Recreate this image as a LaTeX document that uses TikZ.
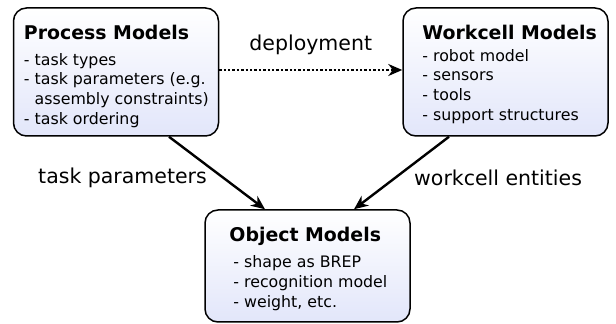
\documentclass[tikz,border=0pt]{standalone}
\usepackage{fontspec}
\setmainfont{DejaVu Sans}
\usetikzlibrary{arrows.meta,positioning}

\definecolor{modelfill}{RGB}{226,230,250}

\tikzset{
  model/.style = {draw=black, line width=1.5pt, rounded corners=13pt,
                  top color=white, bottom color=modelfill,
                  minimum width=205pt, inner sep=0pt},
  items/.style = {align=left, inner sep=0pt,
                  font=\fontsize{15.8}{19.7}\selectfont},
  flow/.style  = {-{Stealth[length=14pt,width=12pt]}, line width=2.4pt},
  lbl/.style   = {font=\fontsize{20.5}{24}\selectfont, inner sep=0pt}
}
\newcommand{\modeltitle}[1]{{\fontsize{18.9}{22}\selectfont\bfseries #1}}

\begin{document}
\begin{tikzpicture}[x=1pt, y=1pt]
        \useasboundingbox (0,0) rectangle (616,324);

        % Place nodes
        \node[model, minimum height=128pt] (proc) at (116,252) {};
        \node[model, minimum height=128pt] (work) at (505.5,252) {};
        \node[model, minimum height=112pt] (obj)  at (307.5,58) {};

        \node[items, below right=17.6pt and 11pt of proc.north west] (proctext)
          {\modeltitle{Process Models}\\[6pt]
           - task types\\
           - task parameters (e.g.\\
           \phantom{- }assembly constraints)\\
           - task ordering};
        \node[items, below right=17.6pt and 20pt of work.north west] (worktext)
          {\modeltitle{Workcell Models}\\[2pt]
           - robot model\\
           - sensors\\
           - tools\\
           - support structures};
        \node[items, below right=17.6pt and 25pt of obj.north west] (objtext)
          {\modeltitle{Object Models}\\[6.5pt]
           \hspace{4pt}- shape as BREP\\
           \hspace{4pt}- recognition model\\
           \hspace{4pt}- weight, etc.};

        % Draw edges
        \draw [flow, dotted] ([yshift=2pt]proc.east) -- ([yshift=2pt]work.west)
              node [lbl, midway, above=14pt] {deployment};
        \draw [flow] (proc.south -| 169,0) -- (obj.north -| 265,0)
              node [lbl, midway, left=9pt, yshift=-5pt] {task parameters};
        \draw [flow] (work.south -| 449,0) -- (obj.north -| 354,0)
              node [lbl, midway, right=11.5pt, yshift=-5pt] {workcell entities};
\end{tikzpicture}
\end{document}
